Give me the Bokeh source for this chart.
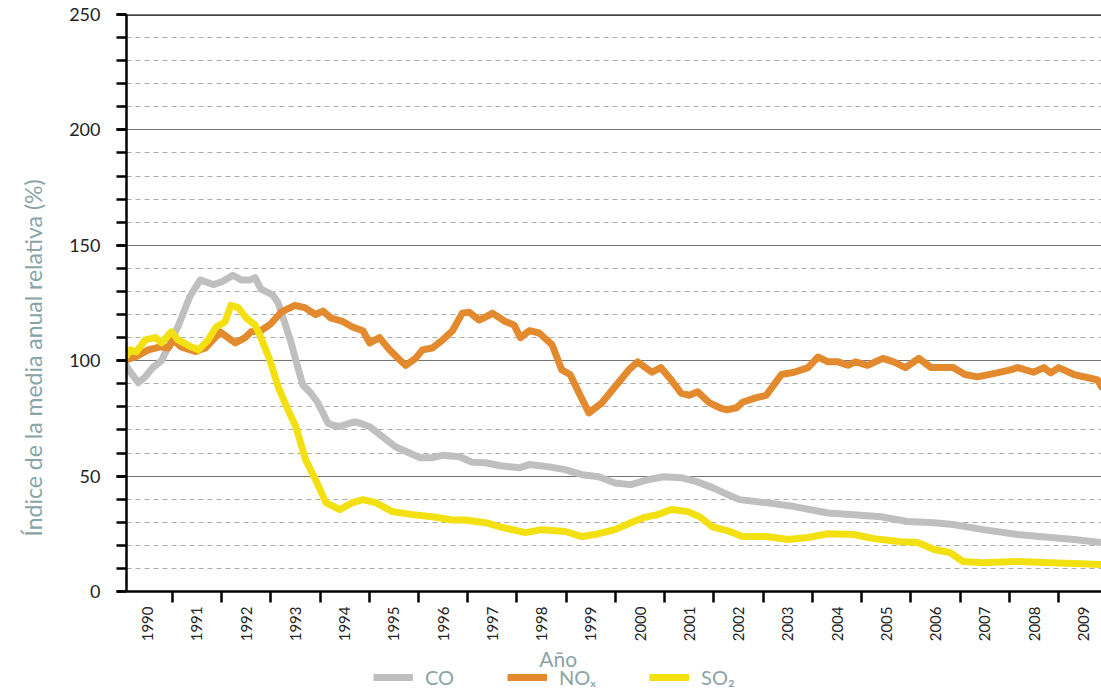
import math
from bokeh.plotting import figure
from bokeh.layouts import column
from bokeh.models import (Range1d, FixedTicker, SingleIntervalTicker, Span, Title, Label,
                          Legend, LegendItem)
from bokeh.embed import file_html
from bokeh.resources import INLINE

# ---------------- data ----------------
years = list(range(1990, 2010))
year_labels = [str(y) for y in years]

co_x = [1990.00, 1990.15, 1990.31, 1990.45, 1990.60, 1990.78, 1991.12, 1991.36, 1991.57,
        1991.83, 1991.99, 1992.23, 1992.40, 1992.58, 1992.68, 1992.80, 1993.04, 1993.15,
        1993.29, 1993.41, 1993.55, 1993.65, 1993.81, 1993.95, 1994.16, 1994.26, 1994.40,
        1994.62, 1994.72, 1994.87, 1995.01, 1995.27, 1995.53, 1995.82, 1996.02, 1996.28,
        1996.49, 1996.83, 1997.09, 1997.36, 1997.66, 1998.04, 1998.25, 1998.65, 1998.98,
        1999.32, 1999.66, 1999.99, 2000.31, 2000.65, 2000.98, 2001.33, 2001.65, 2001.97,
        2002.28, 2002.52, 2003.06, 2003.63, 2004.32, 2004.84, 2005.39, 2005.93, 2006.47,
        2006.86, 2007.47, 2008.17, 2008.84, 2009.31, 2009.87]
co_y = [100, 95, 90.5, 93, 97, 100, 115, 128, 135,
        133, 134, 137, 135, 135, 136, 131, 128.5, 125,
        116, 108, 97, 89.5, 86, 82, 73, 72, 71.5,
        73, 73.5, 72.5, 71.4, 67, 62.7, 60, 58, 58,
        59, 58.4, 56, 55.8, 54.5, 53.6, 55, 54, 52.8,
        50.6, 49.7, 47, 46.3, 48.4, 49.7, 49.3, 47.6, 45,
        42, 39.8, 38.5, 36.8, 34, 33.3, 32.4, 30.3, 29.8,
        29, 26.8, 24.7, 23.4, 22.5, 21.2]

nox_x = [1990.00, 1990.25, 1990.51, 1990.76, 1990.92, 1991.02, 1991.18, 1991.47, 1991.67,
         1991.87, 1991.97, 1992.13, 1992.28, 1992.48, 1992.60, 1992.80, 1993.00, 1993.21,
         1993.49, 1993.69, 1993.91, 1994.06, 1994.22, 1994.46, 1994.66, 1994.87, 1995.01,
         1995.21, 1995.41, 1995.62, 1995.74, 1995.94, 1996.08, 1996.28, 1996.49, 1996.69,
         1996.89, 1997.03, 1997.23, 1997.44, 1997.50, 1997.76, 1997.94, 1998.07, 1998.25,
         1998.45, 1998.71, 1998.91, 1999.08, 1999.26, 1999.46, 1999.72, 1999.99, 2000.27,
         2000.45, 2000.74, 2000.92, 2001.13, 2001.33, 2001.50, 2001.67, 2001.91, 2002.12,
         2002.26, 2002.46, 2002.58, 2002.86, 2003.06, 2003.37, 2003.63, 2003.91, 2004.11,
         2004.32, 2004.52, 2004.72, 2004.88, 2005.12, 2005.43, 2005.65, 2005.89, 2006.16,
         2006.41, 2006.64, 2006.86, 2007.10, 2007.35, 2007.75, 2008.02, 2008.17, 2008.49,
         2008.70, 2008.84, 2009.00, 2009.31, 2009.60, 2009.79, 2009.87]
nox_y = [100, 101.6, 104.7, 106, 105.5, 109, 106, 104, 105.5,
         110, 112.5, 110, 107.7, 110, 112.5, 113, 116, 121,
         124, 123, 120, 121.5, 118.5, 117, 114.6, 113, 107.7,
         110, 104.7, 100.3, 98, 101, 104.7, 105.5, 109, 113,
         120.6, 121, 117.6, 119.8, 120.6, 117, 115.5, 110, 113,
         112, 107, 96, 94, 86, 77.4, 81.7, 88.7, 96,
         99.5, 95, 97, 91.7, 86, 85, 86.5, 81.7, 79.6,
         78.7, 79.6, 82, 84, 85, 94, 95, 97, 101.6,
         99.5, 99.5, 98, 99.5, 98, 101, 99.5, 97, 101,
         97, 97, 97, 94, 93, 94.7, 96, 97, 95,
         97, 94.7, 97, 94, 92.6, 91.7, 88.7]

so2_x = [1990.00, 1990.15, 1990.27, 1990.45, 1990.66, 1990.78, 1990.98, 1991.12, 1991.38,
         1991.53, 1991.73, 1991.89, 1992.07, 1992.19, 1992.34, 1992.50, 1992.68, 1992.80,
         1992.98, 1993.15, 1993.35, 1993.51, 1993.71, 1993.91, 1994.12, 1994.40, 1994.66,
         1994.87, 1995.13, 1995.47, 1995.88, 1996.28, 1996.69, 1996.95, 1997.36, 1997.66,
         1998.17, 1998.51, 1998.98, 1999.32, 1999.58, 1999.99, 2000.31, 2000.57, 2000.86,
         2001.13, 2001.47, 2001.71, 2001.97, 2002.32, 2002.58, 2003.06, 2003.51, 2003.91,
         2004.32, 2004.84, 2005.25, 2005.79, 2006.14, 2006.47, 2006.79, 2007.06, 2007.47,
         2008.17, 2008.84, 2009.31, 2009.87]
so2_y = [100, 104.7, 103.8, 109, 110, 107.7, 112.5, 109, 106,
         104.7, 109, 114.6, 116.8, 124, 123, 118.5, 115.5, 110,
         100.3, 88.7, 78.7, 71.4, 57, 48.4, 38.5, 35.5, 38.5,
         39.8, 38.5, 34.6, 33.3, 32.4, 31, 31, 29.8, 28,
         25.5, 26.8, 26, 23.8, 24.7, 26.8, 29.8, 32, 33.3,
         35.5, 34.6, 32.4, 28, 26, 23.8, 23.8, 22.5, 23.4,
         25, 24.7, 22.9, 21.6, 21.2, 18.2, 16.9, 13, 12.5,
         13, 12.5, 12.1, 11.7]

series_names = ["CO", "NO\u2093", "SO\u2082"]
series_colors = ["#bfbfbf", "#e38a2e", "#f3e010"]

FONT = "Lato"
TEXT_GRAY = "#8aa3a6"

# ---------------- main figure ----------------
p = figure(width=1101, height=644, output_backend="svg", toolbar_location=None,
           x_range=Range1d(1990.07, 2009.87), y_range=Range1d(0, 250),
           min_border_left=123, min_border_right=0, min_border_top=14,
           min_border_bottom=52)
p.outline_line_color = None
p.background_fill_color = "white"

p.xgrid.visible = False
p.ygrid.ticker = SingleIntervalTicker(interval=50, num_minor_ticks=5)
p.ygrid.grid_line_color = "#767676"
p.ygrid.grid_line_width = 1.2
p.ygrid.minor_grid_line_color = "#ababab"
p.ygrid.minor_grid_line_dash = "5 4"
p.ygrid.minor_grid_line_width = 1

ya = p.yaxis[0]
ya.ticker = SingleIntervalTicker(interval=50, num_minor_ticks=5)
ya.axis_line_color = "black"
ya.axis_line_width = 2.5
ya.major_tick_line_color = "black"
ya.major_tick_line_width = 2.5
ya.major_tick_in = 0
ya.major_tick_out = 10
ya.minor_tick_line_color = "black"
ya.minor_tick_line_width = 2.5
ya.minor_tick_in = 0
ya.minor_tick_out = 10
ya.major_label_text_font = FONT
ya.major_label_text_font_size = "18px"
ya.major_label_text_color = "#222222"
ya.major_label_standoff = 16

xa = p.xaxis[0]
xa.ticker = FixedTicker(ticks=[y + 0.5 for y in years], minor_ticks=years[1:])
xa.major_label_overrides = {y + 0.5: lab for y, lab in zip(years, year_labels)}
xa.axis_line_color = "black"
xa.axis_line_width = 2.5
xa.major_tick_in = 0
xa.major_tick_out = 12
xa.major_tick_line_color = None
xa.minor_tick_line_color = "black"
xa.minor_tick_line_width = 2.5
xa.minor_tick_in = 0
xa.minor_tick_out = 11
xa.major_label_orientation = math.pi / 2
xa.major_label_text_font = FONT
xa.major_label_text_font_size = "15px"
xa.major_label_text_color = "#222222"
xa.major_label_standoff = 3

p.add_layout(Span(location=250, dimension="width", line_color="black", line_width=2.5))

for xs, ys, c in zip([co_x, nox_x, so2_x], [co_y, nox_y, so2_y], series_colors):
    p.line(xs, ys, line_color=c, line_width=7, line_join="round", line_cap="round")

p.add_layout(Title(text="Índice de la media anual relativa (%)", align="left", offset=55,
                   standoff=36, vertical_align="top", text_font=FONT,
                   text_font_size="23px", text_font_style="normal",
                   text_color=TEXT_GRAY), "left")

# ---------------- strip below: axis title + legend ----------------
# (its frame is aligned with the main frame, so x runs 123..1101 in page pixels)
q = figure(width=1101, height=50, output_backend="svg", toolbar_location=None,
           x_range=Range1d(123, 1101), y_range=Range1d(0, 50),
           x_axis_location=None, y_axis_location=None,
           min_border=0)
q.outline_line_color = None
q.xgrid.visible = False
q.ygrid.visible = False

q.add_layout(Label(x=556, y=49, text="Año", text_align="center", text_baseline="top",
                   text_font=FONT, text_font_size="21px", text_color=TEXT_GRAY))

# legend swatches: same series, lying outside this strip's ranges (not visible here)
legend_renderers = [q.line(xs, ys, line_color=c, line_width=7)
                    for xs, ys, c in zip([co_x, nox_x, so2_x], [co_y, nox_y, so2_y],
                                         series_colors)]
legend = Legend(items=[LegendItem(label=n, renderers=[r])
                       for n, r in zip(series_names, legend_renderers)],
                orientation="horizontal", location=(247, 5),
                glyph_width=40, glyph_height=20, label_standoff=12, spacing=53,
                padding=0, margin=0, border_line_color=None,
                background_fill_alpha=0,
                label_text_font=FONT, label_text_font_size="20px",
                label_text_color=TEXT_GRAY)
q.add_layout(legend)

open("out.html", "w").write(file_html(column(p, q, spacing=0), INLINE))
